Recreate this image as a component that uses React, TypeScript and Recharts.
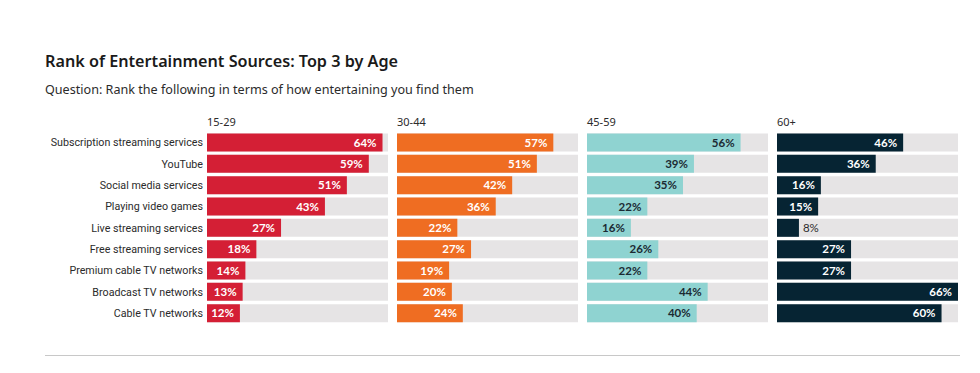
import { BarChart, Bar, XAxis, YAxis, LabelList } from "recharts";

const categories = [
  "Subscription streaming services",
  "YouTube",
  "Social media services",
  "Playing video games",
  "Live streaming services",
  "Free streaming services",
  "Premium cable TV networks",
  "Broadcast TV networks",
  "Cable TV networks",
];

const ageGroups = ["15-29", "30-44", "45-59", "60+"];

const age15to29 = [64, 59, 51, 43, 27, 18, 14, 13, 12];
const age30to44 = [57, 51, 42, 36, 22, 27, 19, 20, 24];
const age45to59 = [56, 39, 35, 22, 16, 26, 22, 44, 40];
const age60plus = [46, 36, 16, 15, 8, 27, 27, 66, 60];

const seriesValues = [age15to29, age30to44, age45to59, age60plus];
const barColors = ["#d41f35", "#ef6d22", "#8fd3d1", "#062433"];
const labelColors = ["#ffffff", "#ffffff", "#1b2a33", "#ffffff"];

const TRACK = "#e6e4e5";
const TEXT = "#2b2b2b";
const MAX = 66;

const panelLeft = [207, 397, 587, 777];
const PLOT_W = 181;

const makeLabel = (color: string) => (props: any) => {
  const { x, y, width, height, value } = props;
  const inside = width > 28;
  return (
    <text
      x={inside ? x + width - 6 : x + width + 4}
      y={y + height / 2}
      dy="0.35em"
      textAnchor={inside ? "end" : "start"}
      fill={inside ? color : TEXT}
      fontFamily="Lato, sans-serif"
      fontWeight={inside ? 700 : 400}
      fontSize={11.5}
    >
      {value}%
    </text>
  );
};

const Panel = ({ idx }: { idx: number }) => {
  const data = categories.map((name, i) => ({ name, value: seriesValues[idx][i] }));
  const first = idx === 0;
  return (
    <div
      style={{
        position: "absolute",
        left: first ? 0 : panelLeft[idx],
        top: 132,
      }}
    >
      <BarChart
        layout="vertical"
        width={first ? panelLeft[0] + PLOT_W : PLOT_W}
        height={192}
        data={data}
        margin={{ top: 0, right: 0, bottom: 0, left: 0 }}
        barCategoryGap="7%"
      >
        <XAxis type="number" domain={[0, MAX]} hide />
        <YAxis
          type="category"
          dataKey="name"
          hide={!first}
          width={first ? panelLeft[0] : 0}
          axisLine={false}
          tickLine={false}
          tickSize={4}
          tickMargin={0}
          interval={0}
          tick={{ fill: TEXT, fontSize: 10.7, fontFamily: "Roboto, sans-serif" }}
        />
        <Bar
          dataKey="value"
          fill={barColors[idx]}
          background={{ fill: TRACK }}
          isAnimationActive={false}
        >
          <LabelList dataKey="value" content={makeLabel(labelColors[idx])} />
        </Bar>
      </BarChart>
    </div>
  );
};

export default function App() {
  return (
    <div
      style={{
        position: "absolute",
        left: 0,
        top: 0,
        width: 980,
        height: 373,
        background: "#fff",
        fontFamily: "'Noto Sans', sans-serif",
        color: TEXT,
      }}
    >
      <div
        style={{
          position: "absolute",
          left: 45,
          top: 50,
          fontSize: 16.2,
          fontWeight: 600,
          color: "#1a1a1a",
          whiteSpace: "nowrap",
        }}
      >
        Rank of Entertainment Sources: Top 3 by Age
      </div>
      <div
        style={{
          position: "absolute",
          left: 45,
          top: 81,
          fontSize: 12.6,
          whiteSpace: "nowrap",
        }}
      >
        Question: Rank the following in terms of how entertaining you find them
      </div>
      {ageGroups.map((g, i) => (
        <div
          key={g}
          style={{
            position: "absolute",
            left: panelLeft[i],
            top: 114,
            fontSize: 11,
            whiteSpace: "nowrap",
          }}
        >
          {g}
        </div>
      ))}
      {ageGroups.map((g, i) => (
        <Panel key={g} idx={i} />
      ))}
      <div
        style={{
          position: "absolute",
          left: 45,
          top: 355,
          width: 915,
          height: 1,
          background: "#c8c8c8",
        }}
      />
    </div>
  );
}
